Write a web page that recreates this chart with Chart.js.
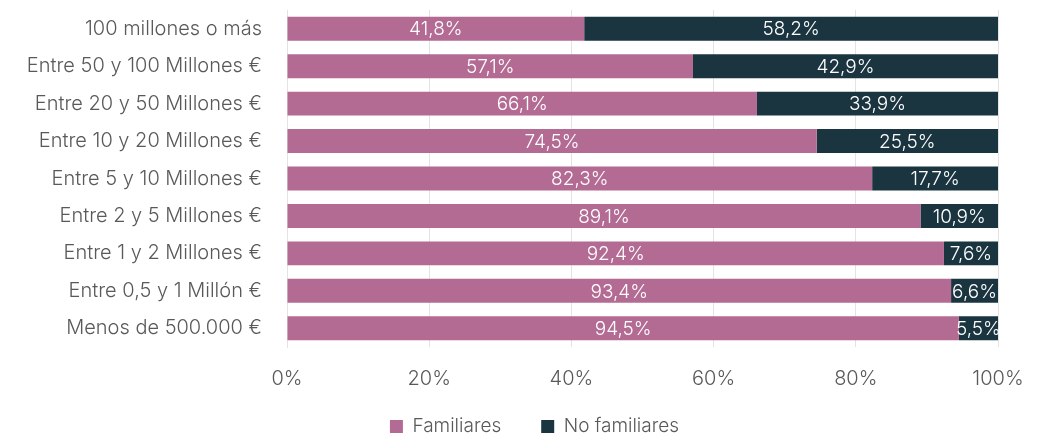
<!DOCTYPE html>
<html>
<head>
<meta charset="utf-8">
<script src="https://cdn.jsdelivr.net/npm/chart.js@4.4.1/dist/chart.umd.min.js"></script>
<style>
  html, body { margin: 0; padding: 0; background: #fff; }
  #wrap { width: 1045px; height: 439px; }
</style>
</head>
<body>
<div id="wrap"><canvas id="chart"></canvas></div>
<script>
const categories = [
  '100 millones o más',
  'Entre 50 y 100 Millones €',
  'Entre 20 y 50 Millones €',
  'Entre 10 y 20 Millones €',
  'Entre 5 y 10 Millones €',
  'Entre 2 y 5 Millones €',
  'Entre 1 y 2 Millones €',
  'Entre 0,5 y 1 Millón €',
  'Menos de 500.000 €'
];
const familiares = [41.8, 57.1, 66.1, 74.5, 82.3, 89.1, 92.4, 93.4, 94.5];
const noFamiliares = [58.2, 42.9, 33.9, 25.5, 17.7, 10.9, 7.6, 6.6, 5.5];

const pink = '#B36A93';
const dark = '#1A3540';
const fontFamily = 'Inter, "Noto Sans", sans-serif';

// draws the value in the middle of each bar segment
const barLabels = {
  id: 'barLabels',
  afterDatasetsDraw(chart) {
    const ctx = chart.ctx;
    ctx.save();
    ctx.fillStyle = '#ffffff';
    ctx.font = '300 19px ' + fontFamily;
    ctx.textAlign = 'center';
    ctx.textBaseline = 'middle';
    chart.data.datasets.forEach((ds, i) => {
      chart.getDatasetMeta(i).data.forEach((bar, j) => {
        const x = (bar.x + bar.base) / 2;
        ctx.fillText(ds.data[j].toFixed(1).replace('.', ',') + '%', x, bar.y + 1);
      });
    });
    ctx.restore();
  }
};

new Chart(document.getElementById('chart'), {
  type: 'bar',
  data: {
    labels: categories,
    datasets: [
      { label: 'Familiares', data: familiares, backgroundColor: pink, barPercentage: 0.64, categoryPercentage: 1 },
      { label: 'No familiares', data: noFamiliares, backgroundColor: dark, barPercentage: 0.64, categoryPercentage: 1 }
    ]
  },
  options: {
    indexAxis: 'y',
    responsive: true,
    maintainAspectRatio: false,
    animation: false,
    layout: { padding: { top: 10, right: 0, left: 24, bottom: -7 } },
    scales: {
      x: {
        stacked: true,
        min: 0,
        max: 100,
        grid: { color: '#e3e3e3', drawTicks: false },
        border: { display: false },
        ticks: {
          stepSize: 20,
          padding: 20,
          color: '#595959',
          font: { family: fontFamily, size: 20, weight: '300' },
          callback: v => v + '%'
        },
        afterFit: s => { s.height = 62; s.paddingRight = 47; }
      },
      y: {
        stacked: true,
        grid: { display: false, drawTicks: false },
        border: { display: true, color: '#e3e3e3' },
        ticks: {
          padding: 25,
          color: '#595959',
          font: { family: fontFamily, size: 20, weight: '300' }
        },
        afterFit: s => { s.width = 263; s.paddingTop = 0; s.paddingBottom = 0; }
      }
    },
    plugins: {
      legend: {
        position: 'bottom',
        labels: {
          boxWidth: 13,
          boxHeight: 13,
          padding: 8,
          color: '#595959',
          font: { family: fontFamily, size: 19, weight: '300' },
          generateLabels: chart => {
            const items = Chart.defaults.plugins.legend.labels.generateLabels(chart);
            items.forEach((it, i) => { if (i < items.length - 1) it.text += '\u2003\u2002\u2009'; });
            return items;
          }
        }
      },
      tooltip: { enabled: false }
    }
  },
  plugins: [barLabels]
});
</script>
</body>
</html>
